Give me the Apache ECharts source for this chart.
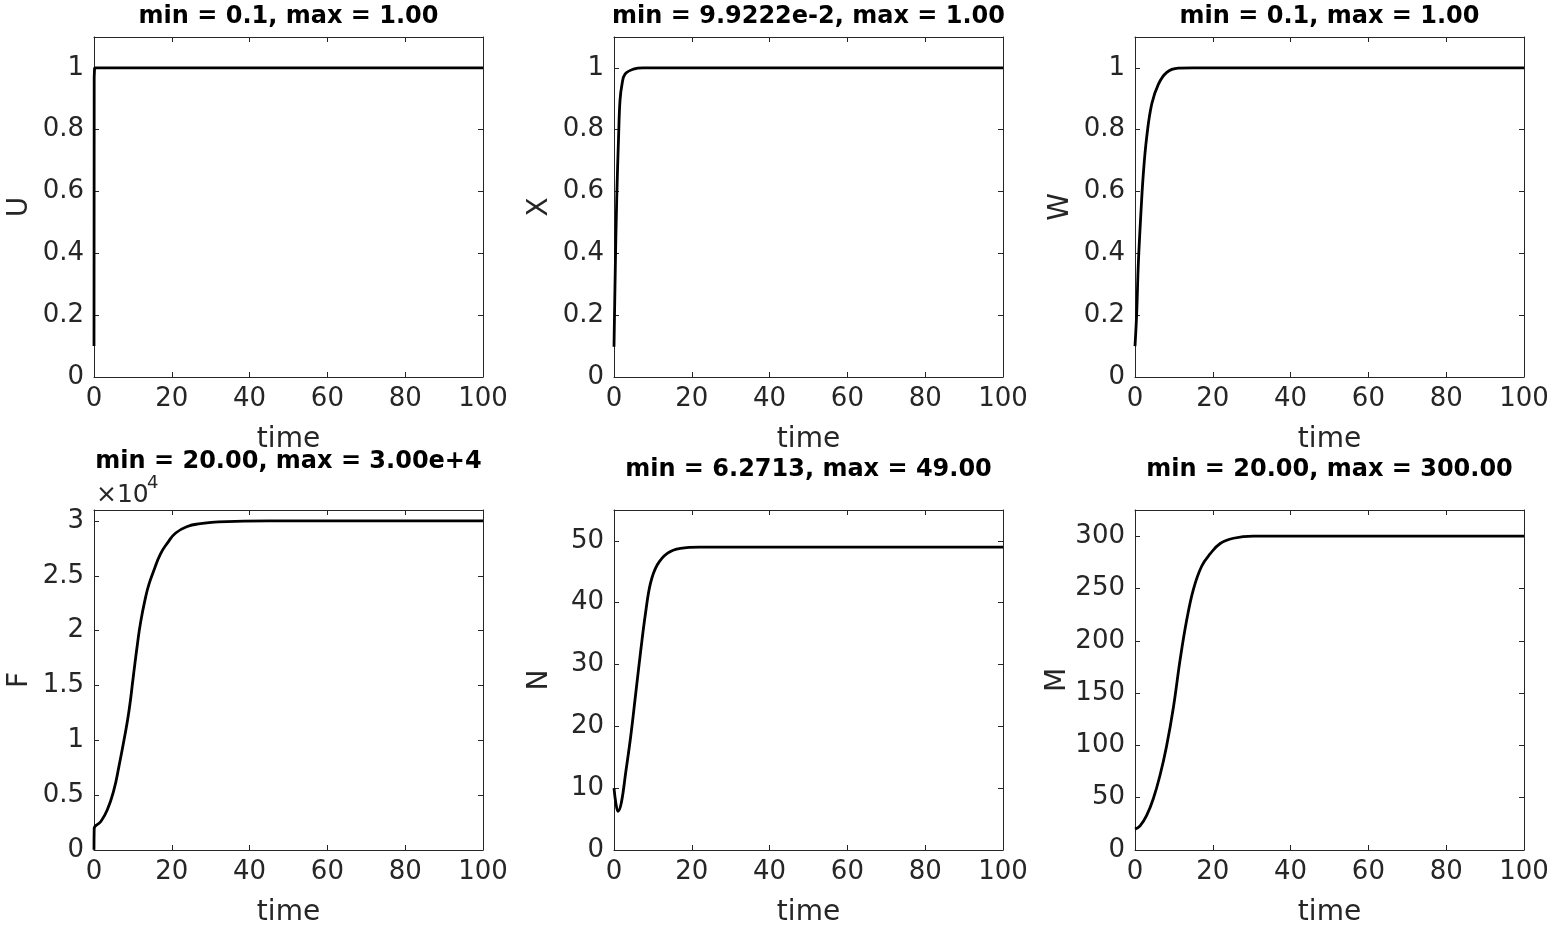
<!DOCTYPE html>
<html>
<head>
<meta charset="utf-8">
<script src="https://cdn.jsdelivr.net/npm/echarts@6/dist/echarts.min.js"></script>
<style>
  html, body { margin: 0; padding: 0; background: #fff; }
  #main { width: 1557px; height: 928px; }
</style>
</head>
<body>
<div id="main"></div>
<script>
// time series
var tU = [0, 0.05, 0.15, 100];
var U = [0.1, 0.97, 1.0, 1.0];

var tX = [0, 0.34, 0.69, 1.2, 1.54, 2.06, 2.83, 5, 7.5, 100];
var X = [0.098, 0.356, 0.571, 0.786, 0.894, 0.947, 0.98, 0.996, 1.0, 1.0];

var tW = [0, 0.43, 0.86, 1.46, 2.14, 3.0, 4.3, 6.0, 8.1, 11.1, 15, 100];
var W = [0.1, 0.205, 0.367, 0.517, 0.657, 0.775, 0.883, 0.947, 0.985, 0.999, 1.0, 1.0];

var tF = [0, 0.05, 1.7, 3.4, 5.1, 6.4, 7.7, 9.0, 10.1, 11.1, 12.0, 13.3, 14.1, 15.4, 17.1, 18.9, 21, 24, 27.4, 32, 45, 100];
var F = [20, 1960, 2570, 3640, 5450, 7600, 10000, 12700, 15800, 18600, 20800, 23100, 24200, 25500, 27000, 28000, 28900, 29500, 29750, 29920, 30000, 30000];

var tN = [0, 0.5, 1.03, 1.9, 3.0, 4.3, 5.6, 6.9, 8.1, 9.4, 11.1, 13.7, 17.1, 22, 100];
var N = [10, 7.5, 6.27, 7.7, 12.5, 18.4, 25.4, 32.4, 38.3, 43.2, 46.1, 48.0, 48.8, 49, 49];

var tM = [0, 1.3, 3, 4.7, 6.4, 8.1, 9.9, 11.6, 13.3, 15, 17.1, 19.3, 21.9, 25.3, 30.4, 100];
var M = [20, 23, 33, 49, 71, 99, 137, 182, 220, 249, 271, 283, 293, 298, 300, 300];

var titles = [
  'min = 0.1, max = 1.00',
  'min = 9.9222e-2, max = 1.00',
  'min = 0.1, max = 1.00',
  'min = 20.00, max = 3.00e+4',
  'min = 6.2713, max = 49.00',
  'min = 20.00, max = 300.00'
];
var yNames = ['U', 'X', 'W', 'F', 'N', 'M'];
var yMax = [1.1, 1.1, 1.1, 31000, 55, 325];
var yStep = [0.2, 0.2, 0.2, 5000, 10, 50];

var panels = [
  { t: tU, v: U, smooth: false },
  { t: tX, v: X, smooth: 0.4 },
  { t: tW, v: W, smooth: 0.4 },
  { t: tF, v: F, smooth: 0.5 },
  { t: tN, v: N, smooth: 0.4 },
  { t: tM, v: M, smooth: 0.4 }
];

var lefts = [94, 614, 1135];
var tops = [37, 510];
var axisColor = '#262626';
var font = '"DejaVu Sans", sans-serif';

var grid = [], xAxis = [], yAxis = [], series = [], graphic = [];

panels.forEach(function (p, i) {
  var col = i % 3, row = Math.floor(i / 3);
  grid.push({ left: lefts[col], top: tops[row], width: 389, height: row ? 341 : 340 });

  var tick = { show: true, inside: true, length: 5, lineStyle: { color: axisColor, width: 1 } };
  var line = { show: true, onZero: false, lineStyle: { color: axisColor, width: 1 } };
  var lab = { fontSize: 26, fontFamily: font, color: axisColor };

  xAxis.push({
    type: 'value', gridIndex: i, min: 0, max: 100, interval: 20,
    name: 'time', nameLocation: 'middle', nameGap: 49,
    nameTextStyle: { fontSize: 28, fontFamily: font, color: axisColor },
    axisLine: line, axisTick: tick, splitLine: { show: false },
    axisLabel: Object.assign({ margin: 9 }, lab)
  });
  xAxis.push({
    type: 'value', gridIndex: i, min: 0, max: 100, interval: 20, position: 'top',
    axisLine: line, axisTick: tick, splitLine: { show: false }, axisLabel: { show: false }
  });

  var fmt = i === 3 ? function (v) { return String(v / 10000); } : null;
  yAxis.push({
    type: 'value', gridIndex: i, min: 0, max: yMax[i], interval: yStep[i],
    name: yNames[i], nameLocation: 'middle', nameGap: 60, nameRotate: 90,
    nameTextStyle: { fontSize: 28, fontFamily: font, color: axisColor },
    axisLine: line, axisTick: tick, splitLine: { show: false },
    axisLabel: Object.assign({ margin: 10, showMaxLabel: false, formatter: fmt }, lab)
  });
  yAxis.push({
    type: 'value', gridIndex: i, min: 0, max: yMax[i], interval: yStep[i], position: 'right',
    axisLine: line, axisTick: tick, splitLine: { show: false }, axisLabel: { show: false }
  });

  var data = p.t.map(function (t, k) { return [t, p.v[k]]; });
  series.push({
    type: 'line', xAxisIndex: 2 * i, yAxisIndex: 2 * i, data: data,
    showSymbol: false, smooth: p.smooth,
    lineStyle: { color: '#000', width: 2.8 }, animation: false, silent: true
  });

  var titleY = row === 0 ? 17 : (i === 3 ? 462 : 470);
  graphic.push({
    type: 'text', x: lefts[col] + 194.5, y: titleY,
    style: {
      text: titles[i], font: 'bold 24px ' + font, fill: '#000',
      align: 'center', verticalAlign: 'middle', textAlign: 'center', textVerticalAlign: 'middle'
    }
  });
});

// axis multiplier for F
graphic.push({
  type: 'text', x: 96, y: 495,
  style: { text: '\u00d710', font: '25px ' + font, fill: axisColor,
    align: 'left', verticalAlign: 'middle', textAlign: 'left', textVerticalAlign: 'middle' }
});
graphic.push({
  type: 'text', x: 147, y: 483,
  style: { text: '4', font: '18px ' + font, fill: axisColor,
    align: 'left', verticalAlign: 'middle', textAlign: 'left', textVerticalAlign: 'middle' }
});

var chart = echarts.init(document.getElementById('main'));
chart.setOption({
  backgroundColor: '#fff',
  animation: false,
  grid: grid,
  xAxis: xAxis,
  yAxis: yAxis,
  series: series,
  graphic: graphic
});
</script>
</body>
</html>
